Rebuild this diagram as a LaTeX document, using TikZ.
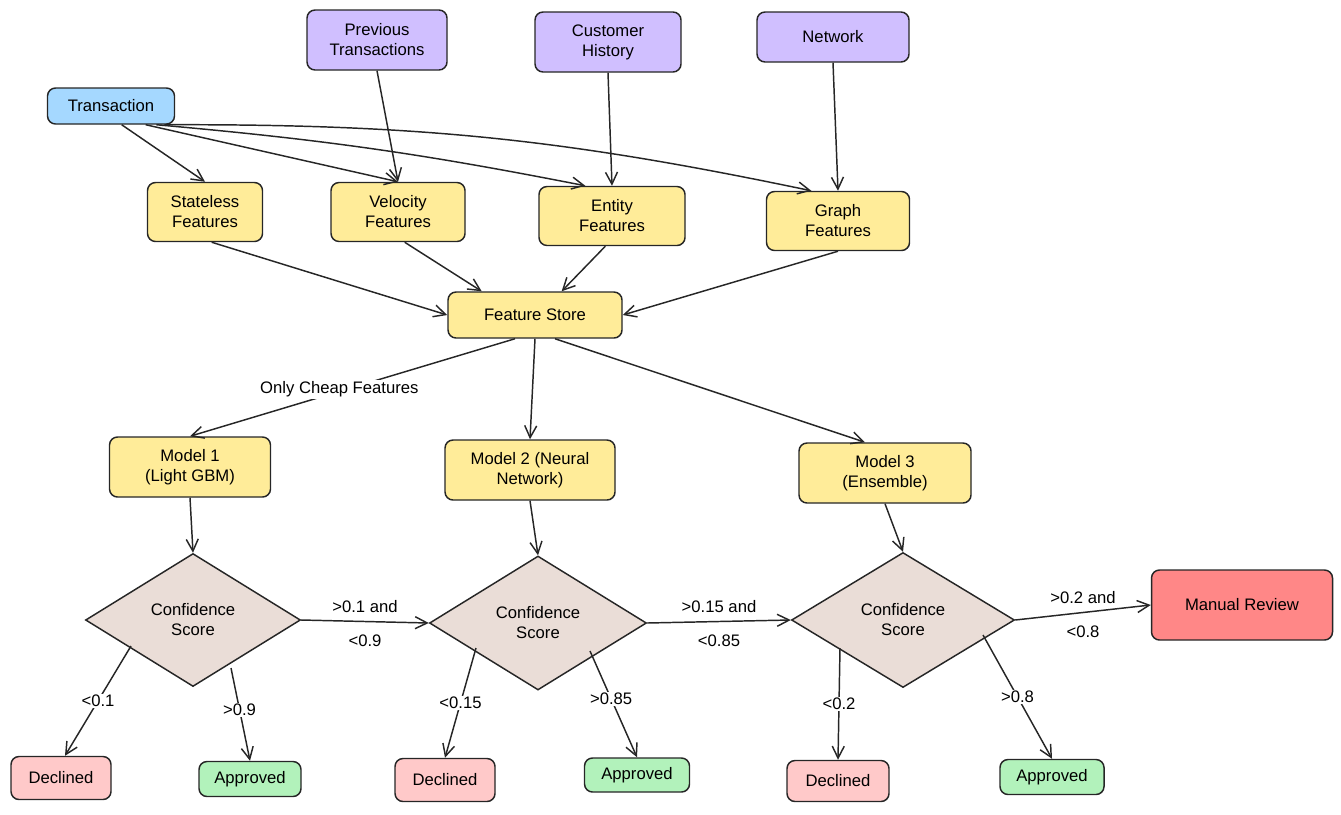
\documentclass[tikz,border=0pt]{standalone}
\usepackage{fontspec}
\setmainfont{Liberation Sans}
\usetikzlibrary{shapes.geometric,arrows.meta,calc}
\definecolor{cblue}{HTML}{A5D8FF}
\definecolor{cpurp}{HTML}{D0BFFF}
\definecolor{cyel}{HTML}{FFEC99}
\definecolor{cdia}{HTML}{EADDD7}
\definecolor{cman}{HTML}{FF8787}
\definecolor{cdec}{HTML}{FFC9C9}
\definecolor{capp}{HTML}{B2F2BB}
\newdimen\pu \pu=0.75pt
\tikzset{
 box/.style={draw=black!85,line width=1.1pt,rounded corners=6pt,align=center,font=\fontsize{12.5}{15}\selectfont,inner sep=2pt},
 dia/.style={draw=black!85,line width=1.1pt,diamond,fill=cdia,align=center,inner sep=0pt,font=\fontsize{12.5}{15}\selectfont},
 arr/.style={-{Straight Barb[length=9pt,width=9pt]},line width=1.1pt,draw=black!85},
 lbl/.style={font=\fontsize{12.5}{15}\selectfont}
}
\begin{document}
\begin{tikzpicture}[x=0.75pt,y=-0.75pt]
\useasboundingbox (0,0) rectangle (1341,814);
\node[box,fill=cblue,minimum width=127\pu,minimum height=36\pu] (tx) at (111,106) {Transaction};
\node[box,fill=cpurp,minimum width=140\pu,minimum height=60\pu] (prev) at (377,40) {Previous\\Transactions};
\node[box,fill=cpurp,minimum width=146\pu,minimum height=60\pu] (cust) at (608,42) {Customer\\History};
\node[box,fill=cpurp,minimum width=152\pu,minimum height=50\pu] (net) at (833,37) {Network};
\node[box,fill=cyel,minimum width=115\pu,minimum height=59\pu] (sf) at (205,212) {Stateless\\Features};
\node[box,fill=cyel,minimum width=134\pu,minimum height=59\pu] (vf) at (398,212) {Velocity\\Features};
\node[box,fill=cyel,minimum width=146\pu,minimum height=59\pu] (ef) at (612,216) {Entity\\Features};
\node[box,fill=cyel,minimum width=143\pu,minimum height=59\pu] (gf) at (838,221) {Graph\\Features};
\node[box,fill=cyel,minimum width=174\pu,minimum height=46\pu] (fs) at (535,315) {Feature Store};
\node[box,fill=cyel,minimum width=161\pu,minimum height=60\pu] (m1) at (190,467) {Model 1\\(Light GBM)};
\node[box,fill=cyel,minimum width=170\pu,minimum height=60\pu] (m2) at (530,470) {Model 2 (Neural\\Network)};
\node[box,fill=cyel,minimum width=172\pu,minimum height=60\pu] (m3) at (885,473) {Model 3\\(Ensemble)};
\node[dia,minimum width=215\pu,minimum height=133\pu] (d1) at (193,620) {Confidence\\Score};
\node[dia,minimum width=217\pu,minimum height=134\pu] (d2) at (538,623) {Confidence\\Score};
\node[dia,minimum width=223\pu,minimum height=135\pu] (d3) at (903,620) {Confidence\\Score};
\node[box,fill=cman,minimum width=181\pu,minimum height=70\pu] (mr) at (1242,605) {Manual Review};
\node[box,fill=cdec,minimum width=100\pu,minimum height=43\pu] (de1) at (61,778) {Declined};
\node[box,fill=capp,minimum width=102\pu,minimum height=35\pu] (ap1) at (250,779) {Approved};
\node[box,fill=cdec,minimum width=100\pu,minimum height=43\pu] (de2) at (445,780) {Declined};
\node[box,fill=capp,minimum width=105\pu,minimum height=34\pu] (ap2) at (637,775) {Approved};
\node[box,fill=cdec,minimum width=102\pu,minimum height=41\pu] (de3) at (838,781) {Declined};
\node[box,fill=capp,minimum width=104\pu,minimum height=35\pu] (ap3) at (1052,777) {Approved};
% inputs
\draw[arr] ([xshift=8pt]tx.south) -- (sf.north);
\draw[arr] ([xshift=26pt]tx.south) -- (vf.north);
\draw[arr] ([xshift=34pt]tx.south) to[bend left=3] ([xshift=-20pt]ef.north);
\draw[arr] ([xshift=40pt]tx.south) to[bend left=6] ([xshift=-20pt]gf.north);
\draw[arr] (prev.south) -- (vf.north);
\draw[arr] (cust.south) -- (ef.north);
\draw[arr] (net.south) -- (gf.north);
\draw[arr] ([xshift=5pt]sf.south) -- (fs.west);
\draw[arr] ([xshift=5pt]vf.south) -- ([xshift=-40pt]fs.north);
\draw[arr] ([xshift=-5pt]ef.south) -- ([xshift=20pt]fs.north);
\draw[arr] (gf.south) -- (fs.east);
\draw[arr] ([xshift=-15pt]fs.south) -- node[lbl,pos=0.52,fill=white,inner sep=1pt,xshift=-5pt] {Only Cheap Features} (m1.north);
\draw[arr] (fs.south) -- (m2.north);
\draw[arr] ([xshift=15pt]fs.south) -- ([xshift=-15pt]m3.north);
\draw[arr] (m1.south) -- (d1.north);
\draw[arr] (m2.south) -- (d2.north);
\draw[arr] (m3.south) -- (d3.north);
\draw[arr] (d1.east) -- node[lbl,above=3pt]{>0.1 and} node[lbl,below=6pt]{<0.9} (d2.west);
\draw[arr] (d2.east) -- node[lbl,above=3pt]{>0.15 and} node[lbl,below=6pt]{<0.85} (d3.west);
\draw[arr] (d3.east) -- node[lbl,above=3pt]{>0.2 and} node[lbl,below=6pt]{<0.8} (mr.west);
\draw[arr] ($(d1)+(-62,26)$) -- node[lbl,pos=0.5,fill=white,inner sep=1pt]{<0.1} ([xshift=3pt]de1.north);
\draw[arr] ($(d1)+(38,48)$) -- node[lbl,pos=0.45,fill=white,inner sep=1pt]{>0.9} (ap1.north);
\draw[arr] ($(d2)+(-62,25)$) -- node[lbl,pos=0.5,fill=white,inner sep=1pt]{<0.15} (de2.north);
\draw[arr] ($(d2)+(52,28)$) -- node[lbl,pos=0.45,fill=white,inner sep=1pt]{>0.85} (ap2.north);
\draw[arr] ($(d3)+(-63,28)$) -- node[lbl,pos=0.5,fill=white,inner sep=1pt]{<0.2} (de3.north);
\draw[arr] ($(d3)+(80,15)$) -- node[lbl,pos=0.5,fill=white,inner sep=1pt]{>0.8} (ap3.north);
\end{tikzpicture}
\end{document}
